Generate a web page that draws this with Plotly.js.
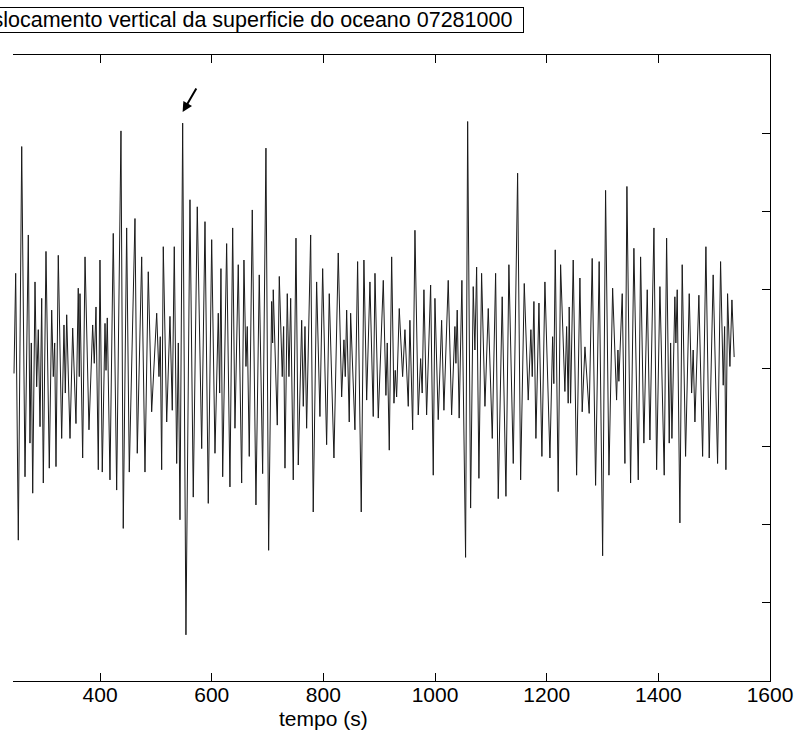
<!DOCTYPE html>
<html>
<head>
<meta charset="utf-8">
<script src="https://cdn.plot.ly/plotly-3.0.1.min.js"></script>
<style>html,body{margin:0;padding:0;background:#fff;}</style>
</head>
<body>
<div id="chart" style="width:799px;height:736px;"></div>
<script>
// time (s) of each turning point of the record
const tempo = [
245.8,248.8,253.5,259.6,265.5,271.4,274.4,276.8,279.3,283.4,286.4,289.3,292.4,295.4,298.3,303.1,309.0,313.3,316.2,318.7,
321.0,325.1,331.2,335.3,337.7,340.2,346.1,350.9,356.8,360.9,362.7,364.0,368.8,373.0,380.1,386.7,389.6,392.7,396.8,399.8,
403.9,408.8,410.6,412.9,417.7,423.6,429.7,437.4,441.5,447.6,452.3,462.5,466.6,474.5,480.4,486.3,492.4,501.4,505.5,507.8,
510.3,513.2,519.3,525.2,529.3,532.9,537.2,540.1,543.1,547.9,553.8,561.0,566.9,574.1,582.0,587.9,593.8,599.9,605.8,611.7,
614.2,616.5,619.6,626.7,632.6,637.5,641.6,647.5,653.6,657.7,661.3,663.6,667.2,672.6,679.2,685.1,691.2,697.1,701.9,707.3,
709.1,710.2,717.4,721.0,726.3,728.8,731.2,735.3,738.3,741.4,746.0,750.9,755.0,761.1,764.0,767.0,770.0,777.2,781.8,787.9,
793.8,798.7,805.8,810.5,818.9,826.6,832.7,836.8,839.2,841.7,846.3,848.8,856.5,861.3,867.8,872.6,877.5,883.4,889.3,892.4,
898.3,907.3,912.0,914.4,918.0,922.3,926.4,928.7,931.2,935.9,941.9,946.1,952.0,955.0,959.9,964.0,969.9,974.2,977.0,980.1,
984.9,992.1,996.8,999.8,1005.7,1011.8,1015.9,1023.6,1029.7,1035.6,1037.4,1039.7,1043.2,1048.1,1054.7,1058.4,1063.7,1068.4,1071.4,1074.5,
1078.6,1083.4,1089.4,1095.3,1102.5,1108.5,1113.2,1120.3,1127.0,1132.3,1140.1,1147.9,1153.3,1159.8,1166.9,1171.7,1174.1,1177.1,1180.7,1186.1,
1191.4,1196.8,1205.8,1210.6,1212.8,1215.3,1220.6,1224.9,1232.6,1235.7,1238.5,1240.3,1242.8,1247.5,1253.6,1259.5,1263.6,1268.5,1276.1,1281.5,
1287.6,1294.0,1300.2,1305.5,1311.5,1318.1,1325.2,1327.6,1329.3,1335.3,1340.1,1343.7,1350.3,1356.2,1364.0,1368.2,1374.1,1380.1,1384.9,1392.1,
1396.9,1402.8,1410.5,1414.8,1419.5,1422.0,1424.3,1429.6,1431.4,1433.8,1438.6,1442.7,1448.8,1455.3,1459.6,1462.4,1465.5,1472.6,1479.3,1485.2,
1491.1,1498.2,1506.1,1511.5,1516.2,1518.7,1521.0,1524.0,1528.2,1531.8,1535.8
];
// vertical displacement of the ocean surface at those times
const deslocamento = [
-0.07,1.21,-2.20,2.83,-1.39,1.70,-0.96,0.32,-1.60,1.10,-0.24,0.49,-0.75,0.89,-1.47,1.49,-1.28,0.74,-0.11,0.32,
-1.26,1.44,-0.90,0.55,-0.32,0.68,-0.90,0.51,-0.71,1.02,-0.11,0.95,-1.15,1.42,-0.79,0.55,0.06,0.78,-1.30,1.38,
-1.33,0.57,-0.03,0.64,-1.43,1.72,-1.56,3.03,-2.05,1.79,-1.33,1.91,-1.09,1.42,-1.33,1.23,-0.56,0.70,-0.11,0.40,
-1.30,1.55,-0.69,0.66,-0.54,1.55,-1.22,0.32,-1.94,3.13,-3.41,2.15,-1.65,2.06,-1.03,1.87,-1.73,1.64,-1.09,0.70,
-0.32,1.27,-1.39,1.59,-1.52,1.79,-0.77,1.32,-1.47,1.38,0.02,0.53,-1.13,2.02,-1.75,1.19,-1.35,2.81,-2.33,0.85,
0.32,1.00,-0.73,1.17,-0.11,0.53,-1.28,0.95,-0.11,0.89,-1.43,1.66,-1.24,0.61,-0.49,0.53,-0.77,1.70,-1.84,1.10,
-0.62,1.27,-0.98,0.95,-1.15,1.47,-0.37,0.36,-0.11,0.74,-0.69,0.70,-0.79,1.36,-1.84,1.38,-0.41,1.10,-0.62,1.21,
-0.64,1.12,-0.35,0.32,-1.05,1.42,-0.45,-0.03,-0.37,0.76,-0.11,0.49,-0.49,0.61,-0.79,1.76,-0.60,0.12,-0.32,1.00,
-0.60,1.06,-1.37,0.89,-0.66,0.61,-0.54,1.12,-0.60,0.53,0.06,0.74,-0.64,1.12,-2.42,3.15,-1.79,1.04,0.23,1.29,
-1.41,1.21,-0.49,0.76,-0.90,1.21,-1.67,0.91,-1.64,1.32,-1.22,2.49,-1.43,1.08,-0.41,0.49,-0.11,0.85,-0.90,0.83,
-1.13,1.10,-1.15,0.40,-0.20,1.51,-1.58,1.32,-0.30,0.53,-0.45,0.78,-0.45,1.38,-1.37,1.15,-0.56,0.27,-0.58,1.40,
-1.50,1.36,-2.40,2.27,-1.37,1.02,-0.41,0.23,-0.17,0.95,-1.22,2.32,-1.47,1.53,-1.43,1.42,-0.96,1.00,-0.92,1.79,
-1.30,1.04,-1.37,1.66,-0.96,0.32,-0.90,0.91,0.32,1.00,-1.98,1.32,-1.13,0.95,-0.32,0.23,-0.69,0.93,-1.13,1.55,
-1.15,1.19,-1.22,1.36,-0.22,0.53,-1.30,0.95,0.02,0.87,0.14
];
const xTicks = [400, 600, 800, 1000, 1200, 1400, 1600];
const tituloGrafico = 'Deslocamento vertical da superficie do oceano 07281000';
const tituloEixoX = 'tempo (s)';
// marked wave (arrow): crest time and height
const ondaMarcada = {t: 547.9, y: 3.13};

const FONT = '"Liberation Sans", Arial, Helvetica, sans-serif';
const FS = 21;
const FS_TITLE = 21.5;

// measure title text so the box can keep a right-hand gap like the original
function textWidth(txt, size) {
  const c = document.createElement('canvas').getContext('2d');
  c.font = size + 'px "Liberation Sans", Arial, sans-serif';
  return c.measureText(txt).width;
}
const titleW = Math.ceil(textWidth(tituloGrafico, FS_TITLE)) + 10;

const trace = {
  x: tempo, y: deslocamento, type: 'scatter', mode: 'lines',
  line: {color: '#1a1a1a', width: 1},
  hoverinfo: 'x+y', showlegend: false
};

const layout = {
  width: 799, height: 736,
  margin: {l: 13, r: 29, t: 55, b: 55, pad: 0},
  paper_bgcolor: '#ffffff', plot_bgcolor: '#ffffff',
  font: {family: FONT, size: FS, color: '#000'},
  showlegend: false,
  xaxis: {
    range: [244, 1600], tickvals: xTicks, ticktext: xTicks.map(String),
    ticks: 'inside', ticklen: 8, tickcolor: '#000', tickwidth: 1,
    showline: true, linecolor: '#000', linewidth: 1, mirror: 'ticks',
    showgrid: false, zeroline: false, ticklabelstandoff: -5,
    tickfont: {family: FONT, size: FS, color: '#000'}
  },
  yaxis: {
    range: [-4, 4], dtick: 1, tick0: 0, side: 'right',
    ticks: 'inside', ticklen: 8, tickcolor: '#000',
    showline: true, linecolor: '#000', linewidth: 1, mirror: false,
    showticklabels: false, showgrid: false, zeroline: false
  },
  annotations: [
    {
      xref: 'paper', yref: 'paper', x: (524 - 13) / 757, y: (681 - 20.5) / 626,
      xanchor: 'right', yanchor: 'middle', showarrow: false,
      text: tituloGrafico, font: {family: FONT, size: FS_TITLE, color: '#000'},
      width: titleW, align: 'left',
      bordercolor: '#000', borderwidth: 1, borderpad: 0, bgcolor: '#fff'
    },
    {
      xref: 'x', yref: 'paper', x: 800, y: (681 - 718) / 626,
      xanchor: 'center', yanchor: 'middle', showarrow: false,
      text: tituloEixoX, font: {family: FONT, size: FS, color: '#000'}
    },
    {
      xref: 'x', yref: 'y', x: ondaMarcada.t, y: ondaMarcada.y + 0.14,
      axref: 'x', ayref: 'y', ax: ondaMarcada.t + 26, ay: ondaMarcada.y + 0.46,
      text: '', showarrow: true, arrowhead: 2, arrowsize: 1, arrowwidth: 2, arrowcolor: '#000'
    }
  ]
};

Plotly.newPlot('chart', [trace], layout, {staticPlot: true, displayModeBar: false});
</script>
</body>
</html>
